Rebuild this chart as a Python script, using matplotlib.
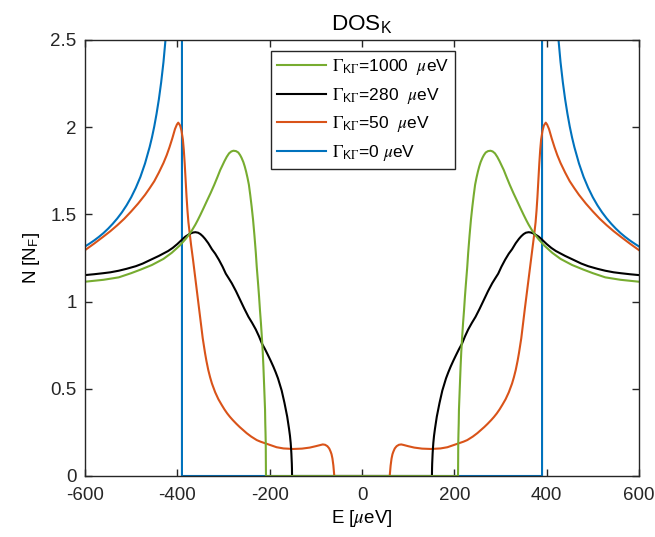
import numpy as np
import matplotlib
matplotlib.use('Agg')
import matplotlib.pyplot as plt
from matplotlib.ticker import FuncFormatter

plt.rcParams['font.family'] = ['Liberation Sans', 'DejaVu Sans']
plt.rcParams['mathtext.fontset'] = 'stix'
plt.rcParams['font.size'] = 13.5
plt.rcParams['axes.unicode_minus'] = False

### data (E >= 0 half, curves are symmetric in E) ###
E_0 = [0, 390, 390, 400, 405, 410, 415, 420, 425, 430, 435, 440, 445, 450, 455, 460, 470, 480,
       490, 500, 510, 520, 530, 540, 550, 560, 570, 580, 590, 600]
N_0 = [0, 0, 30, 4.5, 3.71, 3.24, 2.925, 2.69, 2.52, 2.374, 2.258, 2.16, 2.077, 2.004, 1.941,
       1.886, 1.792, 1.715, 1.652, 1.598, 1.552, 1.512, 1.477, 1.446, 1.418, 1.393, 1.371,
       1.351, 1.333, 1.316]

E_50 = [0, 60, 61, 62, 64, 66, 68, 71, 75, 80, 85, 90, 100, 113, 130, 149, 170, 185, 205, 220,
        228, 240, 250, 257, 265, 272, 280, 286, 292, 298, 304, 311, 318, 325, 329, 333, 337,
        340, 345, 349, 353, 358, 362, 366, 370, 373, 376, 378, 380, 382, 384, 386, 388, 391,
        394, 398, 401, 405, 411, 417, 423, 430, 440, 450, 460, 470, 485, 500, 515, 530, 545,
        560, 580, 600]
N_50 = [0, 0, 0.03, 0.06, 0.10, 0.125, 0.14, 0.158, 0.171, 0.179, 0.181, 0.178, 0.171, 0.163,
        0.157, 0.155, 0.158, 0.165, 0.183, 0.197, 0.206, 0.226, 0.246, 0.262, 0.281, 0.299,
        0.321, 0.339, 0.359, 0.382, 0.408, 0.440, 0.480, 0.530, 0.566, 0.608, 0.660, 0.705,
        0.79, 0.88, 0.965, 1.07, 1.155, 1.24, 1.32, 1.385, 1.455, 1.52, 1.60, 1.695, 1.79,
        1.87, 1.93, 1.98, 2.01, 2.026, 2.015, 1.99, 1.935, 1.885, 1.84, 1.795, 1.74, 1.69,
        1.65, 1.612, 1.562, 1.517, 1.475, 1.438, 1.404, 1.373, 1.333, 1.295]

E_280 = [0, 151.5, 151.7, 152, 152.5, 153, 153.7, 154.5, 156, 158, 160, 162, 165, 168, 171, 174,
         178, 182, 187, 192, 198, 204, 210, 217, 223, 230, 238, 246, 255, 264, 273, 282, 289,
         295, 302, 310, 318, 325, 333, 340, 345, 350, 355, 361, 366, 372, 377, 383, 390, 400,
         410, 420, 440, 460, 475, 490, 510, 527, 545, 560, 580, 600]
N_280 = [0, 0, 0.04, 0.07, 0.10, 0.13, 0.16, 0.19, 0.23, 0.27, 0.305, 0.34, 0.38, 0.42, 0.455,
         0.49, 0.525, 0.56, 0.595, 0.627, 0.662, 0.695, 0.727, 0.761, 0.80, 0.84, 0.878, 0.913,
         0.96, 1.01, 1.06, 1.105, 1.135, 1.16, 1.20, 1.24, 1.275, 1.30, 1.335, 1.36, 1.375,
         1.387, 1.395, 1.398, 1.396, 1.39, 1.382, 1.372, 1.355, 1.33, 1.308, 1.29, 1.262, 1.237,
         1.218, 1.203, 1.188, 1.177, 1.168, 1.163, 1.157, 1.152]

E_1000 = [0, 208, 208.3, 208.5, 209, 209.5, 210, 211, 212, 213.6, 215, 217, 219, 221, 223, 225,
          228, 230, 233, 236, 239, 242, 245, 248, 251, 254, 257, 261, 264, 268, 273, 278.5, 283,
          288, 293, 298, 303, 307, 313, 320, 328, 336, 343, 350, 356, 361, 368, 375, 383, 395,
          412, 430, 455, 480, 500, 527, 560, 600]
N_1000 = [0, 0, 0.10, 0.19, 0.25, 0.30, 0.38, 0.45, 0.52, 0.63, 0.71, 0.80, 0.88, 0.95, 1.03,
          1.10, 1.20, 1.28, 1.38, 1.47, 1.544, 1.61, 1.67, 1.71, 1.745, 1.775, 1.80, 1.825, 1.84,
          1.855, 1.863, 1.865, 1.861, 1.85, 1.83, 1.805, 1.777, 1.755, 1.715, 1.67, 1.622, 1.577,
          1.537, 1.498, 1.466, 1.441, 1.41, 1.383, 1.356, 1.321, 1.28, 1.245, 1.21, 1.183, 1.163,
          1.139, 1.125, 1.114]

gammas = [1000, 280, 50, 0]
colors = {1000: '#77AC30', 280: 'k', 50: '#D95319', 0: '#0072BD'}
curves = {0: (E_0, N_0), 50: (E_50, N_50), 280: (E_280, N_280), 1000: (E_1000, N_1000)}


def full(e, n):
    e = np.array(e, dtype=float)
    n = np.array(n, dtype=float)
    return np.concatenate([-e[::-1], e]), np.concatenate([n[::-1], n])


fig = plt.figure(figsize=(6.55, 5.37), dpi=100)
ax = fig.add_axes([85/655, 61/537, 554/655, 436/537])

lines = {}
for g in [0, 50, 280, 1000]:
    x, y = full(*curves[g])
    sp = '  ' if g else ' '
    lines[g], = ax.plot(x, y, color=colors[g], linewidth=1.5,
                        label=r'$\Gamma_{\mathregular{K}\Gamma}$=%d%s$\mu$eV' % (g, sp))

ax.set_xlim(-600, 600)
ax.set_ylim(0, 2.5)
ax.set_xticks(np.arange(-600, 601, 200))
ax.set_yticks(np.arange(0, 2.51, 0.5))
ax.yaxis.set_major_formatter(FuncFormatter(lambda v, p: '%g' % v))
ax.tick_params(direction='in', top=True, right=True, length=5, width=1, colors='#262626')
ax.tick_params(axis='x', pad=8)
ax.tick_params(axis='y', pad=6)
for s in ax.spines.values():
    s.set_color('#262626')
    s.set_linewidth(1)

ax.set_title(r'DOS$_\mathregular{K}$', pad=7)
ax.set_xlabel(r'E [$\mu$eV]', labelpad=3)
ax.set_ylabel(r'N [N$_\mathregular{F}$]', labelpad=6)

leg = ax.legend([lines[g] for g in gammas], [lines[g].get_label() for g in gammas],
                loc='upper left', bbox_to_anchor=(0.336, 0.975), borderaxespad=0,
                fancybox=False, edgecolor='#262626', framealpha=1, fontsize=12.5,
                handlelength=2.8, labelspacing=0.5, borderpad=0.35, handletextpad=0.35)
leg.get_frame().set_linewidth(1)

fig.savefig('out.png', dpi=100)
